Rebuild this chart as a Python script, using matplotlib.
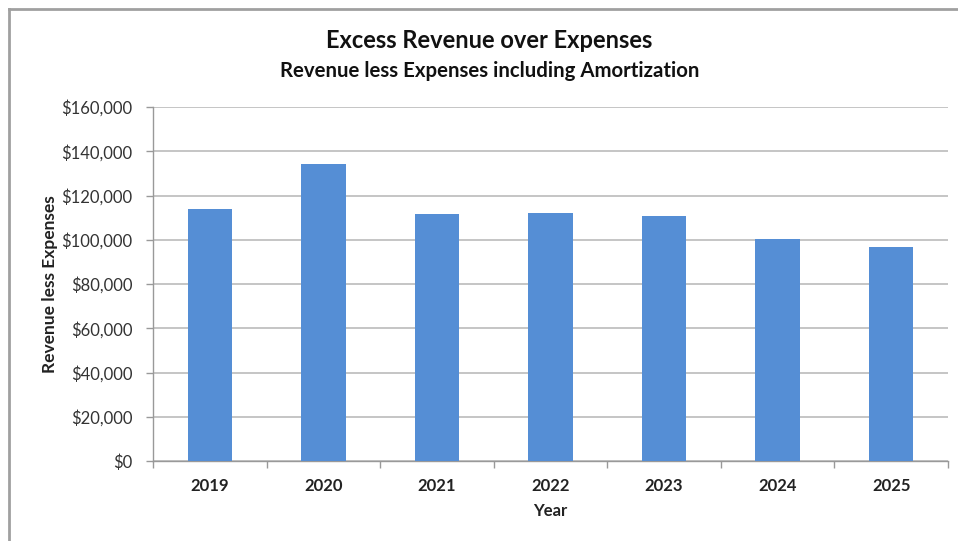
import matplotlib
matplotlib.use("Agg")
import matplotlib.pyplot as plt
from matplotlib.lines import Line2D
from matplotlib.ticker import FuncFormatter, FixedLocator

plt.rcParams['font.family'] = ['Lato', 'DejaVu Sans']

years = ["2019", "2020", "2021", "2022", "2023", "2024", "2025"]
values = [113800, 134400, 111500, 112000, 110600, 100500, 96900]
yticks = [0, 20000, 40000, 60000, 80000, 100000, 120000, 140000, 160000]

fig = plt.figure(figsize=(9.58, 5.41), dpi=100)
ax = fig.add_axes([153/958, (541-461)/541, (948-153)/958, (461-107)/541])

x = list(range(len(years)))
ax.bar(x, values, width=0.39, color="#558ED5", zorder=3)

ax.set_xlim(-0.5, len(years) - 0.5)
ax.set_ylim(0, 160000)
ax.set_yticks(yticks)
ax.yaxis.set_major_formatter(FuncFormatter(lambda v, p: "${:,.0f}".format(v)))
ax.set_xticks(x)
ax.set_xticklabels(years, fontweight="bold", fontsize=12)
ax.xaxis.set_minor_locator(FixedLocator([i - 0.5 for i in range(len(years) + 1)]))
ax.tick_params(axis="x", which="major", length=0, pad=12, colors="#222222")
ax.tick_params(axis="x", which="minor", length=5, color="#999999", width=1)
ax.tick_params(axis="y", length=5, color="#999999", width=1, labelsize=12, labelcolor="#333333", pad=10)

ax.grid(axis="y", color="#bbbbbb", linewidth=1.2, zorder=0)
for s in ["top", "right"]:
    ax.spines[s].set_visible(False)
for s in ["left", "bottom"]:
    ax.spines[s].set_color("#999999")
    ax.spines[s].set_linewidth(1)

ax.set_xlabel("Year", fontweight="bold", fontsize=12, labelpad=7, color="#222222")
ax.set_ylabel("Revenue less Expenses", fontweight="bold", fontsize=12.5, labelpad=2, color="#222222")

fig.text(489/958, 1 - 41/541, "Excess Revenue over Expenses", ha="center", va="center",
         fontsize=17, fontweight="bold", color="#111111")
fig.text(490/958, 1 - 71/541, "Revenue less Expenses including Amortization", ha="center", va="center",
         fontsize=14.7, fontweight="bold", color="#111111")

# outer frame (top and left only)
fig.add_artist(Line2D([9/958, 1], [1 - 9/541, 1 - 9/541], transform=fig.transFigure, color="#a0a0a0", linewidth=2))
fig.add_artist(Line2D([9/958, 9/958], [0, 1 - 9/541], transform=fig.transFigure, color="#a0a0a0", linewidth=2))

fig.savefig("out.png", dpi=100)
